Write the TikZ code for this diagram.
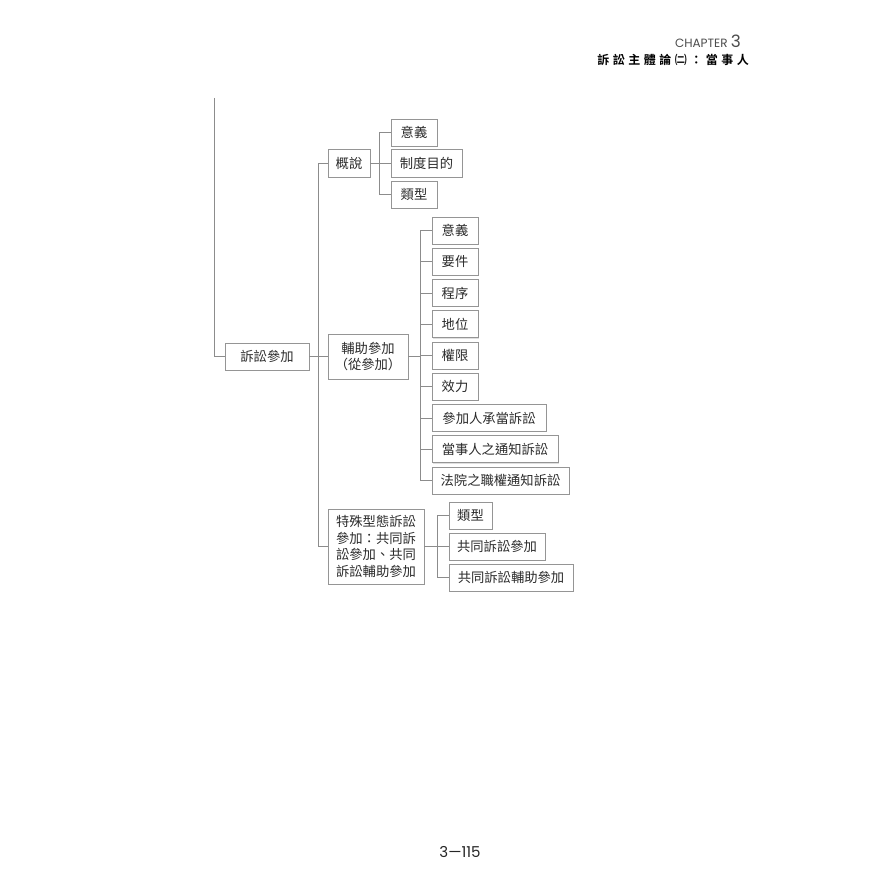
\documentclass[tikz,border=0pt]{standalone}
\usepackage{fontspec}
\usetikzlibrary{shadows}
\newfontfamily\cjk{Noto Sans CJK TC}
\newfontfamily\cjkb{Noto Sans CJK TC Bold}[LetterSpace=29]
\newfontfamily\gothic{Poppins}
\definecolor{linegray}{HTML}{8C8C8C}
\definecolor{boxgray}{HTML}{959595}
\definecolor{txt}{HTML}{2A2A2A}
\tikzset{
  box/.style={draw=boxgray, line width=0.85pt, fill=white, inner sep=0pt,
    minimum height=27pt, text=txt, font=\cjk\fontsize{13.3}{16.7}\selectfont,
    align=center, drop shadow={shadow xshift=0.8pt, shadow yshift=-0.8pt, fill=black!25, opacity=0.5}},
  conn/.style={draw=linegray, line width=0.8pt}
}
\begin{document}
\begin{tikzpicture}[x=1pt,y=-1pt]
\useasboundingbox (0,0) rectangle (896,896);
% header
\node[anchor=base east, inner sep=0pt, text=black!70, font=\gothic\fontsize{12}{14}\selectfont] (chap) at (741,48) {CHAPTER {\fontsize{17}{18}\selectfont 3}};
\node[anchor=base east, inner sep=0pt, text=black, font=\cjkb\fontsize{12}{14}\selectfont] (title) at (749,65) {訴訟主體論㈡：當事人};
% page number
\node[inner sep=0pt, text=black!85, font=\gothic\fontsize{15}{17}\selectfont] (page) at (460,852) {3—115};
% root
\node[box, minimum width=84pt] (root) at (267,356.5) {訴訟參加};
\coordinate (top) at (214,98);
% level 2
\node[box, minimum width=42pt, minimum height=28pt] (gai) at (349,163) {概說};
\node[box, minimum width=80pt, minimum height=45pt] (fz) at (368,356.5) {輔助參加\\（從參加）};
\node[box, minimum width=96pt, minimum height=75pt, align=left] (ts) at (376,546.5) {特殊型態訴訟\\參加：共同訴\\訟參加、共同\\訴訟輔助參加};
% gai children
\node[box, minimum width=46pt] (g1) at (414,132.5) {意義};
\node[box, minimum width=71pt, minimum height=28pt] (g2) at (426.5,163) {制度目的};
\node[box, minimum width=46pt] (g3) at (414,194.5) {類型};
% fz children
\node[box, minimum width=46pt] (f1) at (455,230.5) {意義};
\node[box, minimum width=46pt] (f2) at (455,261.75) {要件};
\node[box, minimum width=46pt] (f3) at (455,293) {程序};
\node[box, minimum width=46pt] (f4) at (455,324.25) {地位};
\node[box, minimum width=46pt] (f5) at (455,355.5) {權限};
\node[box, minimum width=46pt] (f6) at (455,386.75) {效力};
\node[box, minimum width=114pt] (f7) at (489,418) {參加人承當訴訟};
\node[box, minimum width=126pt] (f8) at (495,449.25) {當事人之通知訴訟};
\node[box, minimum width=137pt] (f9) at (500.5,480.5) {法院之職權通知訴訟};
% ts children
\node[box, minimum width=43pt] (t1) at (470.5,515.5) {類型};
\node[box, minimum width=96pt] (t2) at (497,546.5) {共同訴訟參加};
\node[box, minimum width=124pt] (t3) at (511,577.5) {共同訴訟輔助參加};
% connectors
\draw[conn] (top) |- (root.west);
\draw[conn] (root.east) -- (fz.west);
\draw[conn] (gai.west) -| ([xshift=-9pt]ts.west) -- (ts.west);
\draw[conn] (gai.east) -- (g2.west);
\draw[conn] (g1.west) -| ([xshift=-11pt]g3.west) -- (g3.west);
\draw[conn] (fz.east) -- ([xshift=-11pt]f5.west |- fz.east);
\draw[conn] (f1.west) -| ([xshift=-11pt]f9.west) -- (f9.west);
\foreach \n in {f2,f3,f4,f5,f6,f7,f8} \draw[conn] (\n.west) -- ++(-11pt,0);
\draw[conn] (ts.east) -- (t2.west);
\draw[conn] (t1.west) -| ([xshift=-11pt]t3.west) -- (t3.west);
\end{tikzpicture}
\end{document}
